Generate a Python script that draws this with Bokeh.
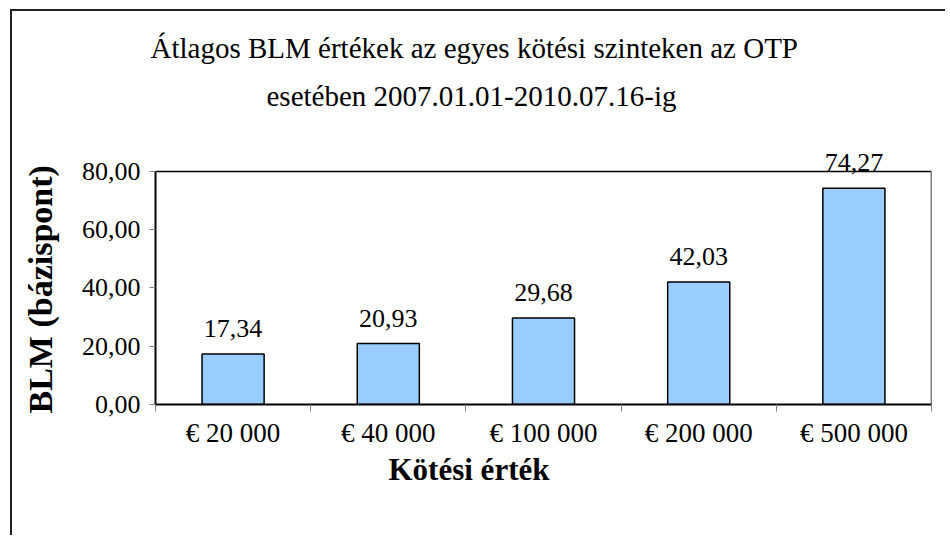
from bokeh.plotting import figure
from bokeh.models import ColumnDataSource, FixedTicker, Range1d, LabelSet, Title
from bokeh.embed import file_html
from bokeh.resources import INLINE

# ---- data ----
categories = ["€ 20 000", "€ 40 000", "€ 100 000", "€ 200 000", "€ 500 000"]
values = [17.34, 20.93, 29.68, 42.03, 74.27]
y_ticks = [0, 20, 40, 60, 80]

title_line1 = "Átlagos BLM értékek az egyes kötési szinteken az OTP"
title_line2 = "esetében 2007.01.01-2010.07.16-ig"
x_title = "Kötési érték"
y_title = "BLM (bázispont)"

FONT = "Liberation Serif"
Y_HEADROOM = 15.45  # extra room above the plot area so the top data label is not clipped


def hu(v):
    return f"{v:.2f}".replace(".", ",")


xs = [i + 0.5 for i in range(len(categories))]
bounds = list(range(len(categories) + 1))
source = ColumnDataSource(dict(x=xs, top=values, label=[hu(v) for v in values]))

n = len(categories)
ymax = y_ticks[-1]

p = figure(width=945, height=535, output_backend="svg", toolbar_location=None,
           x_range=Range1d(0, n), y_range=Range1d(y_ticks[0], ymax + Y_HEADROOM),
           min_border_left=155, min_border_right=14, min_border_top=126, min_border_bottom=131,
           background_fill_color="white", border_fill_color=None)
p.styles = {"box-shadow": "inset 10px 9px 0 0 white, inset 12px 11px 0 0 #222"}

# titles
p.title.text = title_line1
p.title.text_font = FONT
p.title.text_font_size = "29px"
p.title.text_font_style = "normal"
p.title.text_color = "black"
p.title.align = "left"
p.title.offset = -5
p.title.standoff = 0
p.add_layout(Title(text=title_line2, text_font=FONT, text_font_size="29px", text_color="black",
                   text_font_style="normal", align="left", offset=111, standoff=29), "above")

p.xgrid.visible = False
p.ygrid.visible = False
p.outline_line_color = None

# x axis
xa = p.xaxis[0]
xa.ticker = FixedTicker(ticks=xs, minor_ticks=bounds)
xa.major_label_overrides = {x: c for x, c in zip(xs, categories)}
xa.major_tick_out = 0
xa.major_tick_in = 0
xa.minor_tick_out = 7
xa.minor_tick_in = 0
xa.minor_tick_line_color = "#808080"
xa.minor_tick_line_width = 1
xa.axis_line_color = "black"
xa.axis_line_width = 2
xa.major_label_standoff = 6
xa.major_label_text_font = FONT
xa.major_label_text_font_size = "27px"
xa.major_label_text_color = "black"

p.add_layout(Title(text=x_title, text_font=FONT, text_font_size="31px", text_color="black",
                   text_font_style="bold", align="left", vertical_align="middle",
                   offset=233, standoff=0), "below")

# y axis
ya = p.yaxis[0]
ya.ticker = FixedTicker(ticks=y_ticks, minor_ticks=[])
ya.bounds = (y_ticks[0], ymax)
ya.major_label_overrides = {t: hu(t) for t in y_ticks}
ya.major_tick_out = 6
ya.major_tick_in = 0
ya.major_tick_line_color = "#808080"
ya.major_tick_line_width = 1
ya.axis_line_color = "black"
ya.axis_line_width = 2
ya.major_label_standoff = 9
ya.major_label_text_font = FONT
ya.major_label_text_font_size = "26px"
ya.major_label_text_color = "black"

p.add_layout(Title(text=y_title, text_font=FONT, text_font_size="34px", text_color="black",
                   text_font_style="bold", align="left", vertical_align="top",
                   offset=-9, standoff=35), "left")

# plot-area border (top and right)
p.segment(x0=[0, n], y0=[ymax, 0], x1=[n, n], y1=[ymax, ymax],
          line_color="black", line_width=1.5)

# bars
p.vbar(x="x", top="top", width=0.4, bottom=0, source=source,
       fill_color="#99CCFF", line_color="black", line_width=1.5)

labels = LabelSet(x="x", y="top", text="label", source=source, y_offset=17,
                  text_align="center", text_baseline="bottom",
                  text_font=FONT, text_font_size="26px", text_color="black")
p.add_layout(labels)

open("out.html", "w").write(file_html(p, INLINE))
